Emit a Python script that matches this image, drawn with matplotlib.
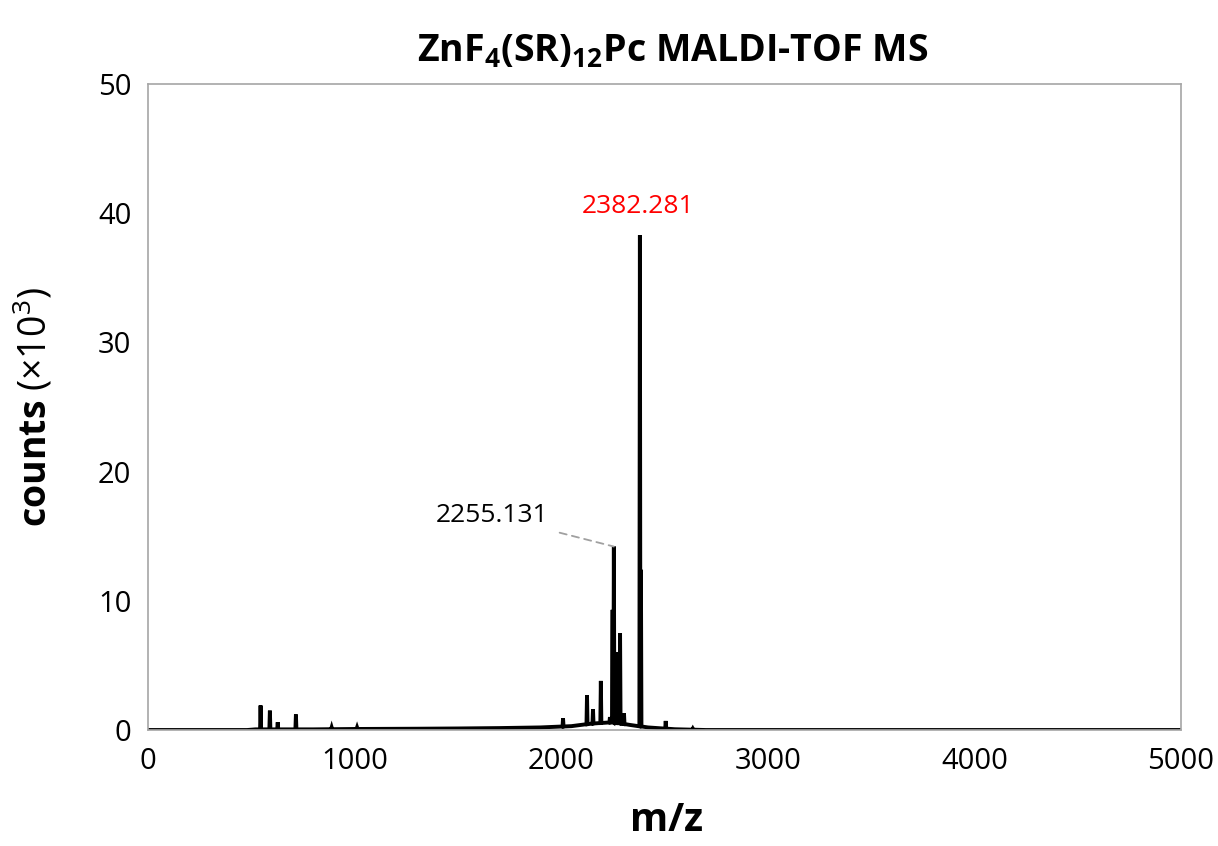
import matplotlib
matplotlib.use("Agg")
import matplotlib.pyplot as plt
import numpy as np

plt.rcParams['font.family'] = ['Open Sans', 'DejaVu Sans']
plt.rcParams['mathtext.fontset'] = 'custom'
plt.rcParams['mathtext.rm'] = 'Open Sans'
plt.rcParams['mathtext.bf'] = 'Open Sans:bold'

# peak list (m/z, counts x10^3)
peak_mz = [545, 590, 628, 716, 889, 1012, 2009, 2125, 2154, 2192, 2236, 2249,
           2255, 2266, 2285, 2304, 2381, 2386, 2506, 2637]
peak_counts = [1.9, 1.5, 0.6, 1.2, 0.2, 0.2, 0.9, 2.7, 1.6, 3.8, 1.0, 9.3,
               14.2, 6.0, 7.5, 1.3, 38.3, 12.4, 0.7, 0.1]

# baseline level under the peaks
base_mz = [0, 480, 520, 800, 1000, 1300, 1500, 1700, 1900, 2050, 2150, 2250,
           2330, 2420, 2550, 2700, 5000]
base_counts = [0.0, 0.0, 0.05, 0.05, 0.08, 0.1, 0.12, 0.15, 0.2, 0.3, 0.5, 0.6,
               0.4, 0.2, 0.06, 0.0, 0.0]

mz = list(base_mz)
counts = list(base_counts)
for m, c in zip(peak_mz, peak_counts):
    b = np.interp(m, base_mz, base_counts)
    mz += [m - 2.5, m, m + 2.5]
    counts += [b, c, b]
order = np.argsort(mz, kind='stable')
mz = np.array(mz)[order]
counts = np.array(counts)[order]

fig = plt.figure(figsize=(12.18, 8.46), dpi=100)
ax = fig.add_axes([0.1215, 0.1371, 0.8481, 0.7636])
ax.plot(mz, counts, color='black', lw=2.8, solid_joinstyle='miter')

ax.set_xlim(0, 5000)
ax.set_ylim(0, 50)
ax.set_xticks([0, 1000, 2000, 3000, 4000, 5000])
ax.set_yticks([0, 10, 20, 30, 40, 50])
ax.tick_params(length=0, labelsize=21, pad=12)
for s in ax.spines.values():
    s.set_color('#a6a6a6')
    s.set_linewidth(1.2)

ax.set_title(r'ZnF$_\mathbf{4}$(SR)$_\mathbf{12}$Pc MALDI-TOF MS', fontsize=27,
             fontweight='bold', pad=16, x=0.508)
ax.set_xlabel('m/z', fontsize=28, fontweight='bold')
ax.xaxis.set_label_coords(0.502, -0.11)
ax.set_ylabel(r'$\mathbf{counts}$ (×10$^3$)', fontsize=27)
ax.yaxis.set_label_coords(-0.09, 0.5)

ax.text(2372, 40.5, '2382.281', color='red', fontsize=19, ha='center', va='center')
ax.annotate('2255.131', xy=(2255, 14.2), xytext=(1940, 16.6), fontsize=19,
            ha='right', va='center',
            arrowprops=dict(arrowstyle='-', color='#a0a0a0', lw=1.3,
                            linestyle=(0, (4, 3)), shrinkA=6, shrinkB=0))

fig.savefig('out.png', dpi=100)
